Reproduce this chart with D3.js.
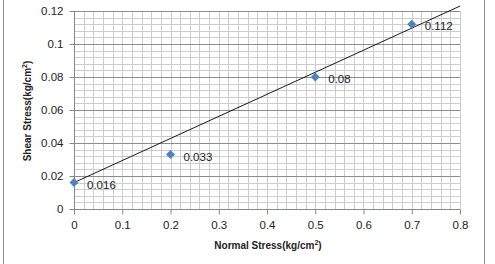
<!DOCTYPE html>
<html><head><meta charset="utf-8">
<script src="https://cdn.jsdelivr.net/npm/d3@7"></script>
<style>body{margin:0;background:#fff}svg{display:block}</style>
</head><body>
<script>
const normalStress = [0, 0.2, 0.5, 0.7];
const shearStress = [0.016, 0.033, 0.08, 0.112];
const pointLabels = ["0.016", "0.033", "0.08", "0.112"];
const xTicks = [0, 0.1, 0.2, 0.3, 0.4, 0.5, 0.6, 0.7, 0.8];
const yTicks = [0, 0.02, 0.04, 0.06, 0.08, 0.1, 0.12];
const yTickLabels = ["0", "0.02", "0.04", "0.06", "0.08", "0.1", "0.12"];
const trendX = [0, 0.8];
const trendY = [0.016, 0.123];

const W = 495, H = 264;
const svg = d3.select("body").append("svg").attr("width", W).attr("height", H);
const x = d3.scaleLinear().domain([0, 0.8]).range([74, 460]);
const y = d3.scaleLinear().domain([0, 0.12]).range([209, 11]);
const font = "'Liberation Sans', Arial, sans-serif";

// outer border lines
svg.append("line").attr("x1", 3.5).attr("x2", 3.5).attr("y1", 0).attr("y2", H).attr("stroke", "#8a8a8a");
svg.append("line").attr("x1", 484.5).attr("x2", 484.5).attr("y1", 0).attr("y2", H).attr("stroke", "#8a8a8a");

const g = svg.append("g");
// minor horizontal grid
const yMinor = d3.range(0, 0.1201, 0.004).filter(v => Math.abs(v / 0.02 - Math.round(v / 0.02)) > 1e-6);
g.selectAll(".hm").data(yMinor).join("line")
  .attr("x1", x(0)).attr("x2", x(0.8))
  .attr("y1", d => Math.round(y(d)) + 0.5).attr("y2", d => Math.round(y(d)) + 0.5)
  .attr("stroke", "#cccccc");
// vertical grid
const xMinor = d3.range(0.02, 0.8001, 0.02);
g.selectAll(".vm").data(xMinor).join("line")
  .attr("y1", y(0)).attr("y2", y(0.12))
  .attr("x1", d => Math.round(x(d)) + 0.5).attr("x2", d => Math.round(x(d)) + 0.5)
  .attr("stroke", "#cccccc");
// major horizontal grid
g.selectAll(".hM").data(yTicks.slice(1)).join("line")
  .attr("x1", x(0)).attr("x2", x(0.8))
  .attr("y1", d => Math.round(y(d)) + 0.5).attr("y2", d => Math.round(y(d)) + 0.5)
  .attr("stroke", "#8c8c8c");

// axes
const xAxis = d3.axisBottom(x).tickValues(xTicks).tickSize(5).tickPadding(6)
  .tickFormat(d3.format(""));
const xg = svg.append("g").attr("transform", `translate(0,${y(0) + 0.5})`).call(xAxis);
const yAxis = d3.axisLeft(y).tickValues(yTicks).tickSize(5).tickPadding(6)
  .tickFormat((d, i) => yTickLabels[i]);
const yg = svg.append("g").attr("transform", `translate(${x(0) + 0.5},0)`).call(yAxis);
[xg, yg].forEach(a => {
  a.select(".domain").attr("stroke", "#868686");
  a.selectAll(".tick line").attr("stroke", "#868686");
  a.selectAll(".tick text").attr("font-family", font).attr("font-size", 11.5).attr("fill", "#222");
});
xg.select(".domain").attr("d", `M${x(0)},0H${x(0.8)}`);
yg.select(".domain").attr("d", `M0,${y(0)}V${y(0.12)}`);

// trendline
svg.append("line")
  .attr("x1", x(trendX[0])).attr("y1", y(trendY[0]))
  .attr("x2", x(trendX[1])).attr("y2", y(trendY[1]))
  .attr("stroke", "#000").attr("stroke-width", 0.9);

// markers
const pts = normalStress.map((v, i) => ({ x: v, y: shearStress[i], label: pointLabels[i] }));
svg.selectAll(".pt").data(pts).join("path")
  .attr("d", d3.symbol().type(d3.symbolDiamond2).size(52))
  .attr("transform", d => `translate(${x(d.x)},${y(d.y)})`)
  .attr("fill", "#4F81BD");
svg.selectAll(".lbl").data(pts).join("text")
  .attr("x", d => x(d.x) + 13).attr("y", d => y(d.y) + 6)
  .attr("font-family", font).attr("font-size", 11.5).attr("fill", "#222")
  .text(d => d.label);

// axis titles
const xt = svg.append("text").attr("x", 268).attr("y", 249).attr("text-anchor", "middle")
  .attr("font-family", font).attr("font-size", 10).attr("font-weight", "bold").attr("fill", "#222");
xt.append("tspan").text("Normal Stress(kg/cm");
xt.append("tspan").attr("dy", -4).attr("font-size", 7).text("2");
xt.append("tspan").attr("dy", 4).text(")");

const yt = svg.append("text").attr("transform", "translate(31,111) rotate(-90)").attr("text-anchor", "middle")
  .attr("font-family", font).attr("font-size", 10).attr("font-weight", "bold").attr("fill", "#222");
yt.append("tspan").text("Shear Stress(kg/cm");
yt.append("tspan").attr("dy", -4).attr("font-size", 7).text("2");
yt.append("tspan").attr("dy", 4).text(")");
</script>
</body></html>
